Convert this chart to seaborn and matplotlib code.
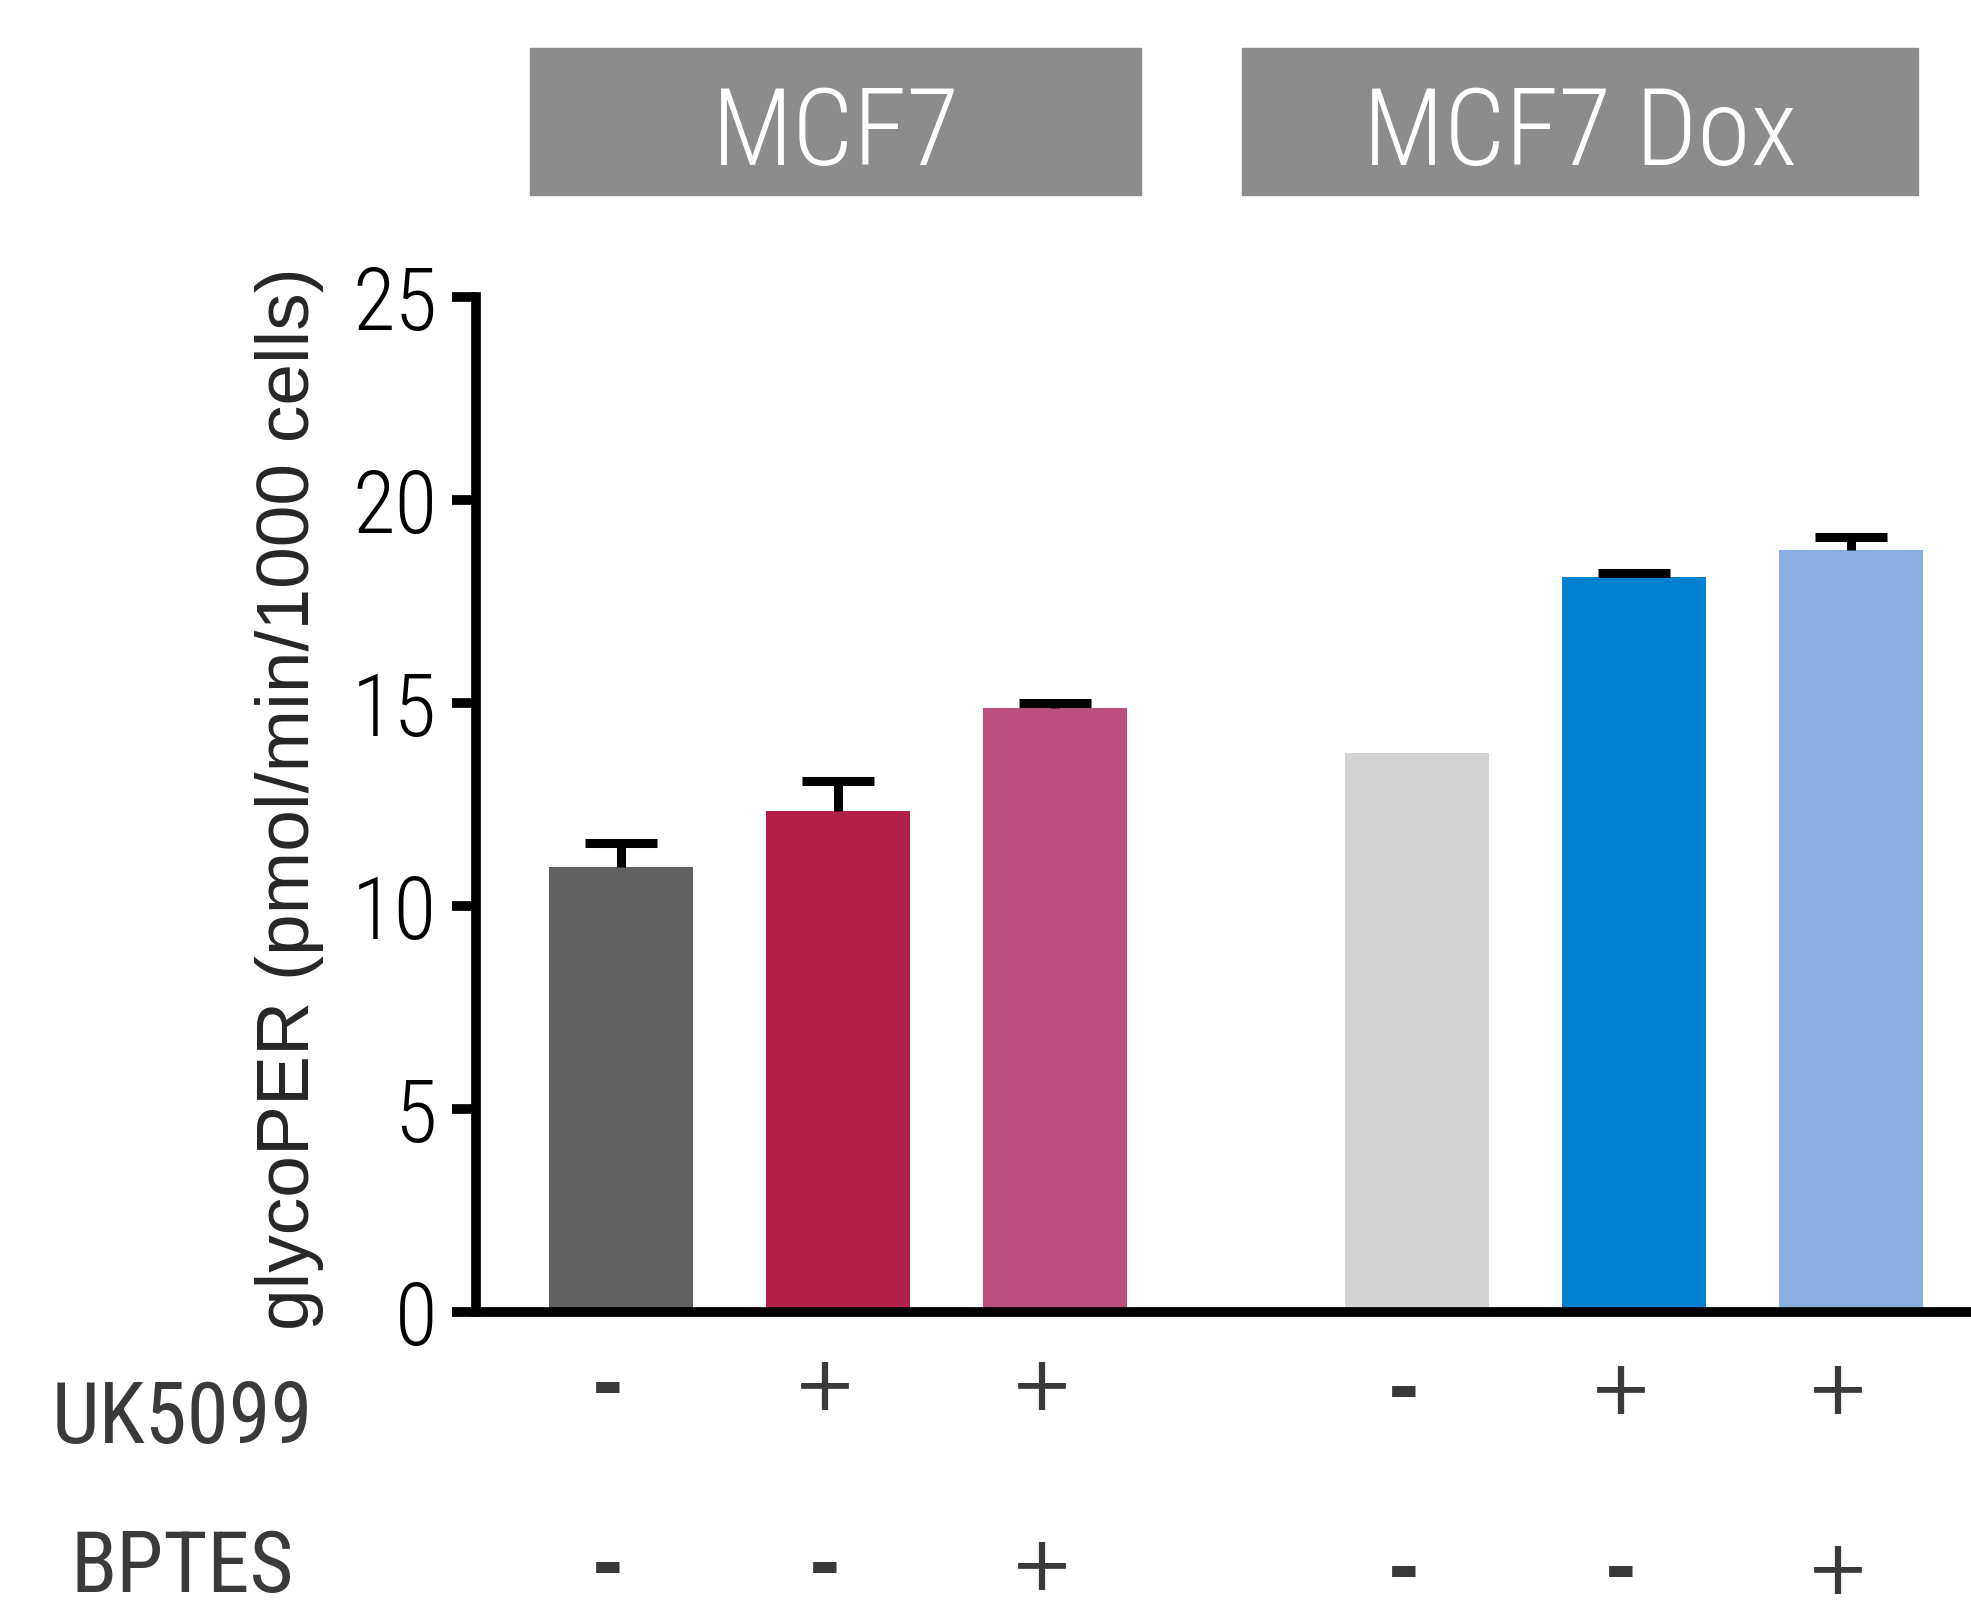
import numpy as np
import pandas as pd
import matplotlib
matplotlib.use("Agg")
import matplotlib.pyplot as plt
import matplotlib.transforms as mtransforms
from matplotlib.patches import Rectangle
import seaborn as sns

# data
groups = ["MCF7", "MCF7 Dox"]
uk5099 = ["-", "+", "+", "-", "+", "+"]
bptes = ["-", "-", "+", "-", "-", "+"]
glycoper = [10.96, 12.34, 14.88, 13.77, 18.1, 18.77]
err_up = [0.6, 0.74, 0.12, None, 0.1, 0.32]
bar_colors = ["#606060", "#b0204a", "#bb507e", "#d3d3d3", "#0082d1", "#8aaee0"]
yticks = [0, 5, 10, 15, 20, 25]

sns.set_theme(style="white")
narrow = ["Roboto Condensed", "DejaVu Sans"]
regular = ["Liberation Sans", "DejaVu Sans"]
plt.rcParams["font.family"] = narrow
plt.rcParams["font.stretch"] = "condensed"
plt.rcParams["font.weight"] = "light"

# bar positions: 3 per group, with a wider gap between groups
group_gap = 0.667
pos = [g * (3 + group_gap) + i for g in range(len(groups)) for i in range(3)]
df = pd.DataFrame({"pos": pos, "value": glycoper,
                   "cond": [f"{u}{b}{k}" for k, (u, b) in enumerate(zip(uk5099, bptes))]})

fig = plt.figure(figsize=(19.71, 16.11), dpi=100)
ax = fig.add_axes([0.2415, 0.1856, 0.7585, 0.63])

sns.barplot(data=df, x="pos", y="value", hue="cond", palette=bar_colors,
            native_scale=True, dodge=False, width=0.664, saturation=1,
            legend=False, linewidth=0, ax=ax)

# upper-only error bars
ex = [p for p, e in zip(pos, err_up) if e is not None]
ey = [v for v, e in zip(glycoper, err_up) if e is not None]
ee = [e for e in err_up if e is not None]
_, caps, _ = ax.errorbar(ex, ey, yerr=[np.zeros(len(ee)), ee], fmt="none",
                         ecolor="black", elinewidth=6.5, capsize=26,
                         capthick=6.5, zorder=3)
caps[0].set_visible(False)

ax.set_xlim(-0.668, 6.22)
ax.set_ylim(0, 25)
ax.set_yticks(yticks)
ax.set_yticklabels([str(t) for t in yticks])
ax.set_xticks([])
ax.set_xlabel("")
for s in ["top", "right"]:
    ax.spines[s].set_visible(False)
for s in ["left", "bottom"]:
    ax.spines[s].set_linewidth(7)
    ax.spines[s].set_color("black")
ax.tick_params(axis="y", direction="out", length=17, width=7, pad=11,
               labelsize=63, colors="black", left=True)
ax.set_ylabel("glycoPER (pmol/min/1000 cells)", fontsize=54, family=regular,
              fontstretch="normal", fontweight="normal")
ax.yaxis.label.set_va("center")
ax.yaxis.set_label_coords(-0.125, 0.506)

# group header boxes
header_boxes = [(530, 1141), (1242, 1918)]
W, H = 1971, 1611
for name, (x0, x1) in zip(groups, header_boxes):
    fig.patches.append(Rectangle((x0 / W, 1 - 195 / H), (x1 - x0) / W, 147 / H,
                                 transform=fig.transFigure, color="#8c8c8c"))
    fig.text((x0 + x1) / 2 / W, 1 - 136 / H, name, color="white", fontsize=78,
             ha="center", va="center")

# treatment rows (second group sits a touch lower in the reference)
trans = mtransforms.blended_transform_factory(ax.transData, fig.transFigure)
rows = [("UK5099", uk5099, 1389, 1443),
        ("BPTES", bptes, 1569, 1592)]
for label, signs, ysign, ybase in rows:
    fig.text(182 / W, 1 - ybase / H, label, color="#3a3a3a", fontsize=61,
             fontweight="normal", ha="center", va="baseline")
    for k, (p, s) in enumerate(zip(pos, signs)):
        dy = 0 if k < 3 else 4
        ax.text(p - 0.06, 1 - (ysign + dy) / H, s, transform=trans,
                color="#3a3a3a", fontsize=55, family=["DejaVu Sans"],
                fontstretch="normal",
                fontweight="bold" if s == "-" else "normal",
                ha="center", va="center", clip_on=False)

fig.savefig("out.png", dpi=100)
